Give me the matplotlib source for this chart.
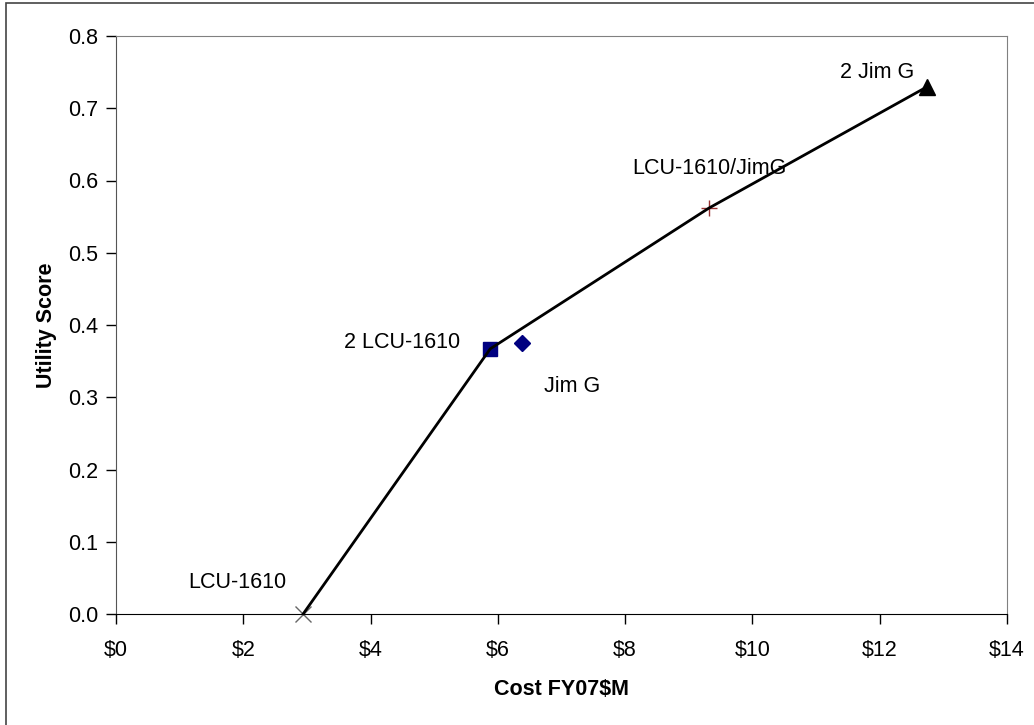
import matplotlib.pyplot as plt
from matplotlib.patches import Rectangle
from matplotlib.ticker import FuncFormatter

plt.rcParams['font.family'] = ['Liberation Sans', 'DejaVu Sans']

# alternatives (cost in FY07 $M, utility score)
names = ["LCU-1610", "2 LCU-1610", "Jim G", "LCU-1610/JimG", "2 Jim G"]
cost = [2.94, 5.88, 6.38, 9.32, 12.75]
utility = [0.0, 0.367, 0.375, 0.562, 0.730]
markers = ["x", "s", "D", "+", "^"]
colors = ["#666666", "#000080", "#000080", "#993333", "#000000"]
sizes = [11, 10, 8, 12, 11]

# efficient frontier
frontier_cost = [2.94, 5.88, 9.32, 12.75]
frontier_util = [0.0, 0.367, 0.562, 0.730]

# label positions (data coords)
label_x = [1.90, 4.49, 7.16, 9.33, 11.96]
label_y = [0.044, 0.376, 0.315, 0.617, 0.750]

fig = plt.figure(figsize=(10.34, 7.25), dpi=100)
ax = fig.add_axes([116 / 1034, 1 - 614 / 725, (1007 - 116) / 1034, (614 - 36) / 725])

# outer chart border
fig.patches.append(Rectangle((6 / 1034, -0.01), 1.05, 1 - 3 / 725 + 0.01, transform=fig.transFigure,
                             fill=False, edgecolor="#444444", linewidth=1.2))

for i in range(len(names)):
    ax.plot(cost[i], utility[i], marker=markers[i], color=colors[i], markersize=sizes[i],
            markeredgewidth=1.0, linestyle="none", zorder=2, clip_on=False)
    ax.text(label_x[i], label_y[i], names[i], fontsize=15.5, ha="center", va="center")

ax.plot(frontier_cost, frontier_util, color="black", linewidth=2, zorder=3)

ax.set_xlim(0, 14)
ax.set_ylim(0, 0.8)
ax.set_xticks(range(0, 15, 2))
ax.set_yticks([i / 10 for i in range(9)])
ax.xaxis.set_major_formatter(FuncFormatter(lambda v, p: f"${v:.0f}"))
ax.yaxis.set_major_formatter(FuncFormatter(lambda v, p: f"{v:.1f}"))
ax.tick_params(labelsize=15.5, length=7, width=1, direction="out")
ax.tick_params(axis="x", pad=12)
ax.tick_params(axis="y", pad=6)

for s in ("top", "right"):
    ax.spines[s].set_color("#808080")
ax.spines["left"].set_color("#555555")
ax.spines["bottom"].set_color("#000000")

ax.set_xlabel("Cost FY07$M", fontsize=15.5, fontweight="bold", labelpad=13)
ax.set_ylabel("Utility Score", fontsize=15.5, fontweight="bold", labelpad=8)

fig.savefig("out.png", dpi=100)
